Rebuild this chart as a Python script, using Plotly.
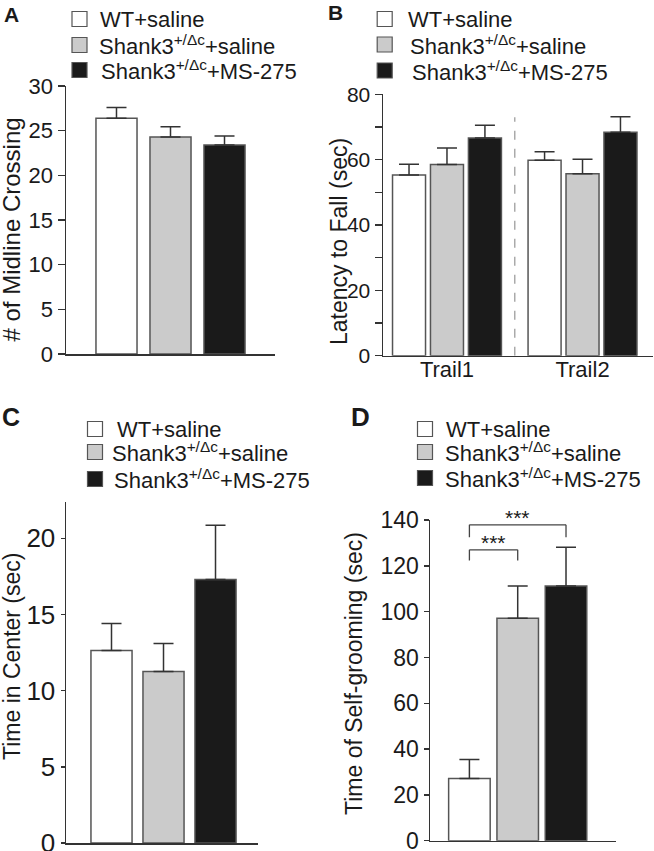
import plotly.graph_objects as go

W, H = 654, 851
FONT = "Arial, 'Liberation Sans', sans-serif"
TXT = "#1a1a1a"
AX = "#333333"
EDGE = "#555555"

# ---------------- data ----------------
groups = ["WT+saline", "Shank3<sup>+/Δc</sup>+saline", "Shank3<sup>+/Δc</sup>+MS-275"]
group_colors = ["#ffffff", "#cbcbcb", "#1a1a1a"]

# A: midline crossings
A_mean = [26.4, 24.3, 23.4]
A_sem = [1.2, 1.15, 1.0]

# B: rotarod latency to fall
B_trials = ["Trail1", "Trail2"]
B_wt = [55.3, 59.8]
B_wt_sem = [3.3, 2.6]
B_het = [58.5, 55.7]
B_het_sem = [5.1, 4.4]
B_ms = [66.6, 68.4]
B_ms_sem = [3.9, 4.7]

# C: time in center
C_mean = [12.63, 11.25, 17.3]
C_sem = [1.77, 1.85, 3.55]

# D: self-grooming
D_mean = [27.2, 97.1, 111.2]
D_sem = [8.3, 14.1, 16.9]
D_sig = [("***", 0, 1, 127.0, 122.3), ("***", 0, 2, 137.9, 132.5)]

A_ticks = [0, 5, 10, 15, 20, 25, 30]
B_ticks = [0, 20, 40, 60, 80]
C_ticks = [0, 5, 10, 15, 20]
D_ticks = [0, 20, 40, 60, 80, 100, 120, 140]


def px(x):
    return x / W


def py(y):
    return 1 - y / H


def err(sem):
    return dict(type="data", symmetric=False, array=sem, arrayminus=[0] * len(sem),
                color=AX, thickness=1.5, width=10)


fig = go.Figure()

# Panel A
fig.add_trace(go.Bar(x=groups, y=A_mean, error_y=err(A_sem), width=0.76,
                     marker=dict(color=group_colors, line=dict(color=EDGE, width=1.5)),
                     xaxis="x", yaxis="y", showlegend=False, hoverinfo="skip"))
# Panel B
for vals, sems, col in [(B_wt, B_wt_sem, group_colors[0]),
                        (B_het, B_het_sem, group_colors[1]),
                        (B_ms, B_ms_sem, group_colors[2])]:
    fig.add_trace(go.Bar(x=B_trials, y=vals, error_y=err(sems),
                         marker=dict(color=col, line=dict(color=EDGE, width=1.5)),
                         xaxis="x2", yaxis="y2", showlegend=False, hoverinfo="skip"))
# Panel C
fig.add_trace(go.Bar(x=groups, y=C_mean, error_y=err(C_sem), width=0.79,
                     marker=dict(color=group_colors, line=dict(color=EDGE, width=1.5)),
                     xaxis="x3", yaxis="y3", showlegend=False, hoverinfo="skip"))
# Panel D
fig.add_trace(go.Bar(x=groups, y=D_mean, error_y=err(D_sem), width=0.86,
                     marker=dict(color=group_colors, line=dict(color=EDGE, width=1.5)),
                     xaxis="x4", yaxis="y4", showlegend=False, hoverinfo="skip"))


def xax(dom, rng, anchor, labels=False, size=22, standoff=0):
    return dict(domain=[px(dom[0]), px(dom[1])], range=rng, anchor=anchor, showline=True,
                linecolor=AX, linewidth=1.5, ticks="", showticklabels=labels, showgrid=False,
                zeroline=False, automargin=False, ticklabeloverflow="allow",
                ticklabelstandoff=standoff,
                tickfont=dict(family=FONT, size=size, color=TXT), fixedrange=True)


def yax(dom, rng, anchor, ticks, size, ticklen, minor=None):
    d = dict(domain=[py(dom[0]), py(dom[1])], range=rng, anchor=anchor, tickvals=ticks,
             showline=True, linecolor=AX, linewidth=1.5, ticks="outside", ticklen=ticklen,
             tickwidth=1.5, tickcolor=AX, showgrid=False, zeroline=False, automargin=False,
             ticklabeloverflow="allow",
             tickfont=dict(family=FONT, size=size, color=TXT), fixedrange=True)
    if minor:
        d["minor"] = minor
    return d


fig.update_layout(
    template="none",
    width=W, height=H, margin=dict(l=0, r=0, t=0, b=0, pad=0), autosize=False,
    paper_bgcolor="white", plot_bgcolor="rgba(0,0,0,0)",
    barmode="group", bargap=0.16, bargroupgap=0.13,
    font=dict(family=FONT, color=TXT), hovermode=False,
    xaxis=xax((66, 275), [-0.935, 2.935], "y"),
    yaxis=yax((354, 86), [0, 30], "x", A_ticks, 22, 7),
    xaxis2=xax((383, 653), [-0.472, 1.52], "y2", labels=True, size=22, standoff=-7),
    yaxis2=yax((355.7, 94.3), [0, 80], "x2", B_ticks, 21, 7,
               minor=dict(dtick=10, ticks="outside", ticklen=7, tickwidth=1.5, tickcolor=AX)),
    xaxis3=xax((66, 258), [-0.875, 2.817], "y3"),
    yaxis3=yax((843, 501.7), [0, 22.4], "x3", C_ticks, 26, 4),
    xaxis4=xax((430, 616), [-0.816, 3.035], "y4"),
    yaxis4=yax((840.7, 520), [0, 140], "x4", D_ticks, 23, 5),
)

shapes = []
ann = []

# dashed separator in B
shapes.append(dict(type="line", xref="x2", yref="y2", x0=0.5, x1=0.5, y0=0, y1=73,
                   line=dict(color="#aaaaaa", width=1.5, dash="dash")))

# significance brackets in D
for label, i0, i1, ytop, yleg in D_sig:
    for (xa, ya, xb, yb) in [(i0, yleg, i0, ytop), (i0, ytop, i1, ytop), (i1, ytop, i1, yleg)]:
        shapes.append(dict(type="line", xref="x4", yref="y4", x0=xa, y0=ya, x1=xb, y1=yb,
                           line=dict(color="#444444", width=1.3)))
    ann.append(dict(text=label, xref="x4", yref="y4", x=(i0 + i1) / 2, y=ytop,
                    xanchor="center", yanchor="bottom", yshift=-6, showarrow=False,
                    font=dict(family=FONT, size=21, color=TXT)))

# axis titles
for text, cx, cy, size in [("# of Midline Crossing", 11, 229.5, 24),
                           ("Latency to Fall (sec)", 339, 242, 23),
                           ("Time in Center (sec)", 12, 657, 23),
                           ("Time of Self-grooming (sec)", 354, 674, 23)]:
    ann.append(dict(text=text, xref="paper", yref="paper", x=px(cx), y=py(cy), textangle=-90,
                    xanchor="center", yanchor="middle", showarrow=False,
                    font=dict(family=FONT, size=size, color=TXT)))

# panel letters
for text, lx, cy, size in [("A", 2, 14.5, 21), ("B", 326, 12.5, 21),
                           ("C", 0, 417.5, 25), ("D", 349, 417.5, 26)]:
    ann.append(dict(text="<b>" + text + "</b>", xref="paper", yref="paper", x=px(lx), y=py(cy),
                    xanchor="left", yanchor="middle", showarrow=False,
                    font=dict(family=FONT, size=size, color=TXT)))

# legends (one per panel)
legends = [
    (79.5, [19, 45, 70], [98, 97, 99]),
    (384.7, [19, 44.5, 70.5], [406, 408, 410]),
    (95, [429, 452, 479], [115, 110, 112]),
    (425, [429, 452, 478], [444, 443, 443]),
]
S = 7.5
for sx, rows, tx in legends:
    for g, col, ry, t in zip(groups, group_colors, rows, tx):
        shapes.append(dict(type="rect", xref="paper", yref="paper",
                           x0=px(sx - S), x1=px(sx + S), y0=py(ry + S), y1=py(ry - S),
                           fillcolor=col, line=dict(color=EDGE, width=1.2)))
        ann.append(dict(text=g, xref="paper", yref="paper", x=px(t), y=py(ry),
                        xanchor="left", yanchor="middle", showarrow=False,
                        font=dict(family=FONT, size=22, color=TXT)))

fig.update_layout(shapes=shapes, annotations=ann)
fig.write_html("out.html", config={"displayModeBar": False, "staticPlot": True},
               post_script="document.body.style.margin='0';document.body.style.overflow='hidden';")
